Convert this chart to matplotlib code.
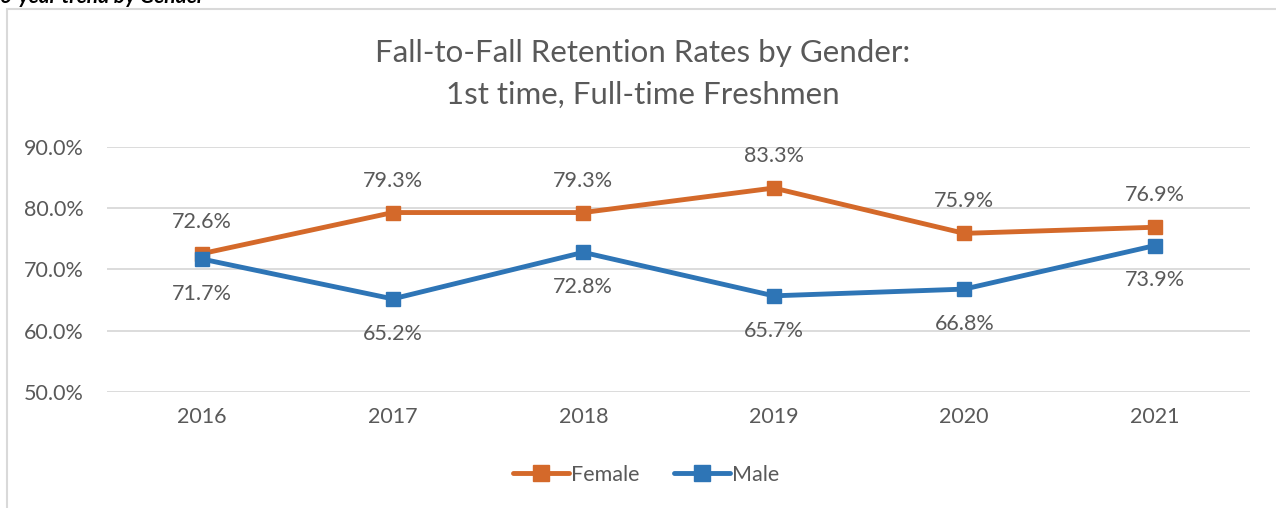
import matplotlib.pyplot as plt
from matplotlib.patches import Rectangle
from matplotlib.lines import Line2D

plt.rcParams['font.family'] = ['Lato', 'DejaVu Sans']

years = ['2016', '2017', '2018', '2019', '2020', '2021']
female = [72.6, 79.3, 79.3, 83.3, 75.9, 76.9]
male = [71.7, 65.2, 72.8, 65.7, 66.8, 73.9]
yticks = [50, 60, 70, 80, 90]

orange = '#D4692A'
blue = '#2E75B6'
grey = '#595959'

fig = plt.figure(figsize=(12.76, 5.08), dpi=100)
ax = fig.add_axes([107 / 1276, 1 - 392 / 508, (1250 - 107) / 1276, (392 - 147) / 508])

# chart frame (cropped at right and bottom)
fig.patches.append(Rectangle((7 / 1276, -0.1), 1.2, 1 - 9 / 508 + 0.1,
                             transform=fig.transFigure, fill=False,
                             edgecolor='#D9D9D9', lw=1.5))
fig.text(0.0, 1 - 3 / 508, '6-year trend by Gender', fontsize=15, fontweight='bold',
         fontstyle='italic', ha='left', va='baseline', color='black')

x = list(range(len(years)))
ax.plot(x, female, color=orange, lw=3.5, marker='s', ms=10, solid_capstyle='round', zorder=3)
ax.plot(x, male, color=blue, lw=3.5, marker='s', ms=10, solid_capstyle='round', zorder=3)

for i in x:
    ax.annotate(f'{female[i]:.1f}%', (i, female[i]), xytext=(0, 23), textcoords='offset points',
                ha='center', va='center', fontsize=15.5, color=grey)
    ax.annotate(f'{male[i]:.1f}%', (i, male[i]), xytext=(0, -25), textcoords='offset points',
                ha='center', va='center', fontsize=15.5, color=grey)

ax.set_xlim(-0.5, len(years) - 0.5)
ax.set_ylim(50, 90)
ax.set_yticks(yticks)
ax.set_yticklabels([f'{v:.1f}%' for v in yticks])
ax.set_xticks(x)
ax.set_xticklabels(years)
ax.tick_params(axis='both', length=0, labelsize=15.5, labelcolor=grey)
ax.tick_params(axis='y', pad=17)
ax.tick_params(axis='x', pad=11)
ax.grid(axis='y', color='#D9D9D9', lw=1.3)
ax.set_axisbelow(True)
for s in ax.spines.values():
    s.set_visible(False)

fig.text(643 / 1276, 1 - 53 / 508, 'Fall-to-Fall Retention Rates by Gender:', ha='center', va='center',
         fontsize=22.5, color=grey)
fig.text(643 / 1276, 1 - 95 / 508, '1st time, Full-time Freshmen', ha='center', va='center',
         fontsize=22.5, color=grey)

handles = [Line2D([0], [0], color=orange, lw=3.5, marker='s', ms=11, solid_capstyle='round'),
           Line2D([0], [0], color=blue, lw=3.5, marker='s', ms=11, solid_capstyle='round')]
fig.legend(handles, ['Female', 'Male'], loc='center', bbox_to_anchor=(646 / 1276, 1 - 475 / 508),
           ncol=2, frameon=False, fontsize=15.5, labelcolor=grey, handlelength=2.6,
           handletextpad=0.1, columnspacing=1.6)

fig.savefig('out.png', dpi=100)
